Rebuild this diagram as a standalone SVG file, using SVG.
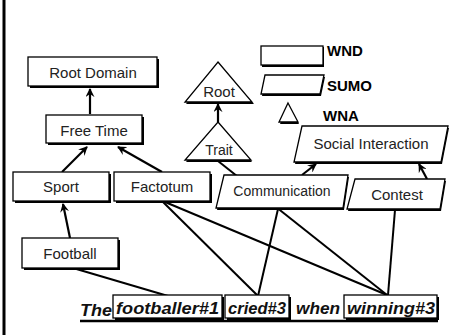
<svg xmlns="http://www.w3.org/2000/svg" width="451" height="335" viewBox="0 0 451 335">
<defs>
<marker id="arr" viewBox="0 0 10 10" refX="9" refY="5" markerWidth="9" markerHeight="9" markerUnits="userSpaceOnUse" orient="auto">
<path d="M0,0 L10,5 L0,10 L3.5,5 z" fill="#000"/>
</marker>
<style>
.sh{fill:#000}
.bx{fill:#fff;stroke:#000;stroke-width:1.3}
.t{font-family:"Liberation Sans",Arial,sans-serif;font-size:15px;fill:#222;text-anchor:middle}
.lg{font-family:"Liberation Sans",Arial,sans-serif;font-size:15px;font-weight:bold;fill:#000}
.s{font-family:"Liberation Sans",Arial,sans-serif;font-size:16px;font-weight:bold;font-style:italic;fill:#111}
.ln{stroke:#000;stroke-width:2;fill:none}
.ar{stroke:#000;stroke-width:2.2;fill:none;marker-end:url(#arr)}
</style>
</defs>
<rect width="451" height="335" fill="#fff"/>
<line x1="4" y1="0" x2="4" y2="335" stroke="#000" stroke-width="3"/>

<g id="connectors">
<line class="ar" x1="90" y1="114" x2="90" y2="89"/>
<line class="ar" x1="62" y1="172" x2="87" y2="147"/>
<line class="ar" x1="162" y1="172" x2="118" y2="147"/>
<line class="ar" x1="70" y1="238" x2="63" y2="204"/>
<line class="ar" x1="218" y1="122" x2="218" y2="104"/>
<line class="ar" x1="302" y1="175" x2="316" y2="164"/>
<line class="ar" x1="427" y1="179" x2="419" y2="164"/>
<line class="ln" x1="73" y1="268" x2="168" y2="296"/>
<line class="ln" x1="163" y1="202" x2="258" y2="296"/>
<line class="ln" x1="165" y1="202" x2="387" y2="295"/>
<line class="ln" x1="218" y1="161" x2="387" y2="295"/>
<line class="ln" x1="278" y1="209" x2="258" y2="296" stroke-width="2.5"/>
<line class="ln" x1="395" y1="210" x2="388" y2="295"/>
</g>

<g id="root-domain">
<rect class="sh" x="30" y="59" width="129" height="29"/>
<rect class="bx" x="28" y="57" width="129" height="29"/>
<text class="t" x="93" y="78">Root Domain</text>
</g>
<g id="free-time">
<rect class="sh" x="48" y="117" width="96" height="28"/>
<rect class="bx" x="46" y="115" width="96" height="28"/>
<text class="t" x="94" y="136">Free Time</text>
</g>
<g id="sport">
<rect class="sh" x="15" y="174" width="96" height="29"/>
<rect class="bx" x="13" y="172" width="96" height="29"/>
<text class="t" x="61" y="192">Sport</text>
</g>
<g id="factotum">
<rect class="sh" x="116" y="174" width="96" height="29"/>
<rect class="bx" x="114" y="172" width="96" height="29"/>
<text class="t" x="162" y="192">Factotum</text>
</g>
<g id="football">
<rect class="sh" x="24" y="240" width="96" height="30"/>
<rect class="bx" x="22" y="238" width="96" height="30"/>
<text class="t" x="70" y="259">Football</text>
</g>

<g id="root">
<polygon class="sh" points="218,64 254,104 186,104"/>
<polygon class="bx" points="218,62 252,102 185,102"/>
<text class="t" x="219" y="97">Root</text>
</g>
<g id="trait">
<polygon class="sh" points="218,124 252,162 186,162"/>
<polygon class="bx" points="218,122 251,160 185,160"/>
<text class="t" x="219" y="155" style="font-size:14px">Trait</text>
</g>

<g id="social-interaction">
<polygon class="sh" points="303,128 449,128 442,164 295,164"/>
<polygon class="bx" points="302,126 448,126 441,162 294,162"/>
<text class="t" x="371" y="149">Social Interaction</text>
</g>
<g id="communication">
<polygon class="sh" points="225,177 349,177 344,210 217,210"/>
<polygon class="bx" points="224,175 348,175 343,208 216,208"/>
<text class="t" x="282" y="196" style="font-size:14px">Communication</text>
</g>
<g id="contest">
<polygon class="sh" points="356,181 446,181 441,211 348,211"/>
<polygon class="bx" points="355,179 445,179 440,209 347,209"/>
<text class="t" x="397" y="200">Contest</text>
</g>

<g id="legend">
<rect class="sh" x="262" y="47" width="62" height="20"/>
<rect class="bx" x="261" y="46" width="62" height="19"/>
<text class="lg" x="327" y="56">WND</text>
<polygon class="sh" points="266,77 325,77 321,96 262,96"/>
<polygon class="bx" points="265,75 324,75 320,94 261,94"/>
<text class="lg" x="327" y="91">SUMO</text>
<polygon class="sh" points="288,105 299,124 280,124"/>
<polygon class="bx" points="288,103 298,122 279,122"/>
<text class="lg" x="323" y="121">WNA</text>
</g>

<g id="sentence">
<line x1="80" y1="321" x2="438" y2="321" stroke="#000" stroke-width="2.5"/>
<text class="s" x="80" y="316" textLength="32" lengthAdjust="spacingAndGlyphs">The</text>
<rect class="sh" x="115" y="297" width="109" height="23"/>
<rect class="bx" x="113" y="295" width="109" height="23"/>
<text class="s" x="116" y="314" textLength="103" lengthAdjust="spacingAndGlyphs">footballer#1</text>
<rect class="sh" x="227" y="297" width="64" height="23"/>
<rect class="bx" x="225" y="295" width="64" height="23"/>
<text class="s" x="228" y="314" textLength="58" lengthAdjust="spacingAndGlyphs">cried#3</text>
<text class="s" x="296" y="314" textLength="44" lengthAdjust="spacingAndGlyphs">when</text>
<rect class="sh" x="346" y="297" width="93" height="23"/>
<rect class="bx" x="344" y="295" width="93" height="23"/>
<text class="s" x="347" y="314" textLength="88" lengthAdjust="spacingAndGlyphs">winning#3</text>
</g>
</svg>
